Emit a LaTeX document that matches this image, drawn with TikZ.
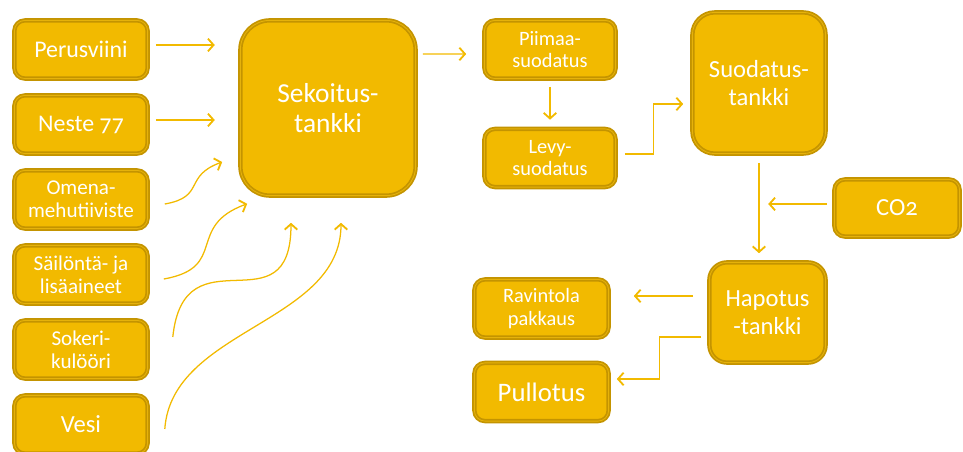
\documentclass[tikz,border=0pt]{standalone}
\usepackage{fontspec}
\setmainfont[Numbers=OldStyle]{Carlito}
\usetikzlibrary{arrows.meta}

\definecolor{gold}{RGB}{242,186,0}
\definecolor{golddark}{RGB}{196,148,0}
\definecolor{goldline}{RGB}{230,178,10}

\begin{document}
\begin{tikzpicture}[x=0.025cm, y=-0.025cm,
    box/.style={rectangle, draw=golddark, line width=1.25pt, double=goldline,
      double distance=0.6pt, fill=gold, text=white, align=center,
      inner sep=0, outer sep=1.55pt, rounded corners=7.5pt},
    small/.style={box, minimum width=3.33cm, minimum height=1.455cm},
    txt/.style 2 args={font=\fontsize{#1}{#2}\selectfont},
    arr/.style={draw=gold, line width=0.9pt,
      -{Straight Barb[length=4pt, width=9pt, line width=1.3pt]}}]
  \useasboundingbox (0,0) rectangle (963,452);

  % inputs
  \node[small, txt={17pt}{19pt}] (perus) at (81, 49.5) {Perusviini};
  \node[small, txt={17pt}{19pt}] (neste) at (81, 124.5) {Neste 77};
  \node[small, txt={15pt}{16.5pt}] (omena) at (81, 199.5) {Omena-\\mehutiiviste};
  \node[small, txt={15pt}{16.5pt}] (sailonta) at (81, 274.5) {Säilöntä- ja\\lisäaineet};
  \node[small, txt={15pt}{16.5pt}] (sokeri) at (81, 349.5) {Sokeri-\\kulööri};
  \node[small, txt={17.5pt}{19pt}] (vesi) at (81, 424.5) {Vesi};

  \node[box, txt={19.5pt}{21.5pt}, rounded corners=21pt,
    minimum width=4.38cm, minimum height=4.38cm] (sek) at (328, 108) {Sekoitus-\\tankki};

  % filtering
  \node[small, txt={14.5pt}{16pt}, minimum width=3.28cm] (piimaa) at (550, 49.5) {Piimaa-\\suodatus};
  \node[small, txt={14.5pt}{16pt}, minimum width=3.28cm] (levy) at (550, 158) {Levy-\\suodatus};
  \node[box, txt={17.5pt}{19.5pt}, rounded corners=16pt,
    minimum width=3.33cm, minimum height=3.53cm] (suodatus) at (759, 83) {Suodatus-\\tankki};
  \node[small, txt={17.5pt}{19.5pt}, minimum width=3.13cm, minimum height=1.43cm] (co2) at (897, 208) {CO2};
  \node[box, txt={17.5pt}{19.5pt}, rounded corners=12.5pt,
    minimum width=2.905cm, minimum height=2.505cm] (hapotus) at (767.5, 312.5) {Hapotus\\-tankki};

  % outputs
  \node[small, txt={14.5pt}{16pt}, minimum width=3.355cm] (ravintola) at (541.5, 308.5) {Ravintola\\pakkaus};
  \node[small, txt={19pt}{21pt}, minimum width=3.355cm] (pullotus) at (541.5, 392) {Pullotus};

  \draw[arr] ([shift={(6,-4.5)}]perus.east) -- ++(59,0);
  \draw[arr] ([shift={(6,-4.5)}]neste.east) -- ++(59,0);
  \draw[arr] ([shift={(15,4.5)}]omena.east) to[out=10, in=200, looseness=1.5] ([shift={(-16,54)}]sek.west);
  \draw[arr] ([shift={(14,4.5)}]sailonta.east) to[out=10, in=200, looseness=1.5] ([shift={(9,6)}]sek.south west);
  \draw[arr] ([shift={(23,-12.5)}]sokeri.east) to[out=84, in=270, looseness=1.7] ([shift={(-37,25)}]sek.south);
  \draw[arr] ([shift={(15,4.5)}]vesi.east) to[out=86, in=270, looseness=0.95] ([shift={(13,25)}]sek.south);

  \draw[arr] ([shift={(5,-54)}]sek.east) -- ([shift={(-16,4.5)}]piimaa.west);
  \draw[arr] ([shift={(0,6)}]piimaa.south) -- ([shift={(0,-7)}]levy.north);
  \draw[arr] ([shift={(7,-4)}]levy.east) -- ++(29,0) |- ([shift={(-7,21)}]suodatus.west);
  \draw[arr] ([shift={(0,7)}]suodatus.south) -- ([shift={(-8.5,-7)}]hapotus.north);
  \draw[arr] ([shift={(-5,-4)}]co2.west) -- ++(-59,0);
  \draw[arr] ([shift={(-14,-16.5)}]hapotus.west) -- ([shift={(23,-12.5)}]ravintola.east);
  \draw[arr] ([shift={(-6,24.5)}]hapotus.west) -- ++(-42,0) |- ([shift={(6,-13)}]pullotus.east);
\end{tikzpicture}
\end{document}
